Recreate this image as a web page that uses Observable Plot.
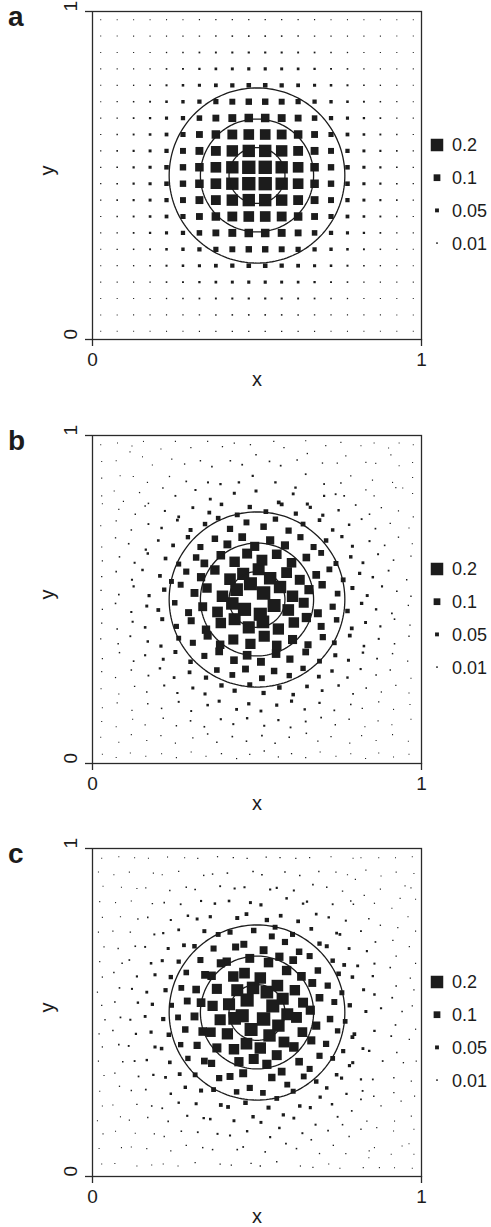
<!DOCTYPE html>
<html>
<head>
<meta charset="utf-8">
<script src="https://cdn.jsdelivr.net/npm/d3@7"></script>
<script src="https://cdn.jsdelivr.net/npm/@observablehq/plot@0.6"></script>
<style>
  body { margin: 0; background: #fff; }
  #chart { position: relative; width: 491px; height: 1227px; overflow: hidden;
           font-family: "Liberation Sans", Arial, Helvetica, sans-serif; color: #1a1a1a; }
  .panel { position: absolute; left: 0; }
</style>
</head>
<body>
<div id="chart"></div>
<script>
// ---- Panel a: regular 20 x 20 grid of sample sites ----
const gridX = [.025,.075,.125,.175,.225,.275,.325,.375,.425,.475,.525,.575,.625,.675,.725,.775,.825,.875,.925,.975];
const gridY = [.975,.925,.875,.825,.775,.725,.675,.625,.575,.525,.475,.425,.375,.325,.275,.225,.175,.125,.075,.025];
// values in thousandths, one row per gridY entry (top to bottom)
const aV = [
  [0,0,0,1,2,2,3,4,5,5,5,5,4,3,2,2,1,0,0,0],
  [0,0,1,2,3,5,7,8,10,11,11,10,8,7,5,3,2,1,0,0],
  [0,1,2,4,6,9,13,16,19,21,21,19,16,13,9,6,4,2,1,0],
  [1,2,4,7,11,16,23,29,34,37,37,34,29,23,16,11,7,4,2,1],
  [2,3,6,11,18,27,37,48,57,62,62,57,48,37,27,18,11,6,3,2],
  [2,5,9,16,27,41,57,73,86,94,94,86,73,57,41,27,16,9,5,2],
  [3,7,13,23,37,57,79,102,120,131,131,120,102,79,57,37,23,13,7,3],
  [4,8,16,29,48,73,102,131,154,168,168,154,131,102,73,48,29,16,8,4],
  [5,10,19,34,57,86,120,154,182,198,198,182,154,120,86,57,34,19,10,5],
  [5,11,21,37,62,94,131,168,198,215,215,198,168,131,94,62,37,21,11,5],
  [5,11,21,37,62,94,131,168,198,215,215,198,168,131,94,62,37,21,11,5],
  [5,10,19,34,57,86,120,154,182,198,198,182,154,120,86,57,34,19,10,5],
  [4,8,16,29,48,73,102,131,154,168,168,154,131,102,73,48,29,16,8,4],
  [3,7,13,23,37,57,79,102,120,131,131,120,102,79,57,37,23,13,7,3],
  [2,5,9,16,27,41,57,73,86,94,94,86,73,57,41,27,16,9,5,2],
  [2,3,6,11,18,27,37,48,57,62,62,57,48,37,27,18,11,6,3,2],
  [1,2,4,7,11,16,23,29,34,37,37,34,29,23,16,11,7,4,2,1],
  [0,1,2,4,6,9,13,16,19,21,21,19,16,13,9,6,4,2,1,0],
  [0,0,1,2,3,5,7,8,10,11,11,10,8,7,5,3,2,1,0,0],
  [0,0,0,1,2,2,3,4,5,5,5,5,4,3,2,2,1,0,0,0]
];

// ---- Panel b: irregular sites (x, y and value in thousandths) ----
const bX = [
  25,76,120,155,208,252,299,350,395,431,480,551,582,648,709,755,816,856,900,932,975,
  28,72,114,152,182,241,280,328,363,419,455,497,538,572,622,653,699,744,770,831,861,907,932,973,
  28,84,124,167,234,285,351,389,445,487,556,617,648,704,755,785,851,912,943,973,
  28,66,94,143,170,214,252,313,358,431,497,566,610,653,704,739,765,831,856,922,973,
  30,80,130,160,220,262,305,355,392,440,478,527,575,618,662,700,748,800,842,878,930,975,
  25,72,118,170,210,258,298,342,382,418,468,520,556,596,640,690,730,780,818,860,905,962,
  28,70,110,162,200,245,290,328,372,410,455,493,540,585,632,672,710,758,790,842,888,930,972,
  30,82,128,168,222,262,315,340,390,432,470,515,560,605,650,695,740,785,822,868,915,968,
  28,72,120,152,205,240,285,330,372,418,458,505,540,590,630,680,720,762,812,852,900,955,
  26,80,125,172,218,268,310,348,395,438,480,520,570,608,658,698,745,790,835,880,925,968,
  30,70,118,165,200,250,292,335,380,425,462,510,552,595,642,685,730,775,818,862,910,960,
  28,75,122,160,212,255,300,345,390,432,475,518,565,612,650,695,742,788,830,875,918,965,
  25,78,115,168,208,262,305,350,388,428,480,522,560,608,655,700,735,782,825,870,918,962,
  30,82,125,160,215,252,298,340,385,430,470,512,558,600,648,690,738,778,822,865,912,958,
  28,70,118,170,205,248,295,345,378,425,465,515,552,598,640,688,728,775,815,862,905,968,
  26,80,128,165,218,258,305,342,392,432,478,520,568,610,652,698,748,792,832,878,922,962,
  30,75,120,168,210,262,300,350,385,438,475,512,560,605,645,690,735,785,820,870,915,965,
  28,72,122,160,215,255,298,340,390,428,470,522,565,602,648,695,738,780,828,868,910,968,
  25,80,118,165,208,252,305,350,378,425,468,515,555,598,650,685,725,782,818,862,912,960,
  30,72,115,162,210,255,300,345,392,438,478,522,565,605,648,692,740,785,830,870,915,962
];
const bY = [
  972,977,968,982,959,982,963,982,966,977,972,982,963,984,969,979,969,977,962,977,972,
  921,923,950,935,910,928,913,923,905,923,911,941,921,908,925,945,916,916,938,918,915,941,908,918,
  870,877,875,857,875,860,857,852,857,877,857,841,882,852,855,877,864,857,840,872,
  816,831,799,826,793,840,816,834,806,824,831,796,822,791,816,821,816,834,816,841,823,
  792,775,760,785,770,752,780,765,790,758,782,768,790,762,781,757,772,788,760,780,770,752,
  725,740,712,730,718,742,712,730,748,715,735,722,745,710,730,742,712,728,745,716,732,718,
  660,688,670,652,680,665,690,660,685,668,690,662,680,665,690,660,680,692,662,678,665,690,670,
  618,630,612,640,625,608,628,610,635,615,640,620,638,612,628,642,610,630,612,638,620,632,
  570,585,560,590,572,555,585,568,590,562,578,592,565,582,560,575,592,560,580,568,588,560,
  528,515,540,512,530,545,520,535,510,530,548,520,538,510,530,545,518,535,512,540,525,510,
  470,488,462,480,468,490,460,478,462,488,470,455,482,468,490,458,478,465,488,470,458,482,
  428,410,432,415,440,418,435,408,428,440,415,432,410,430,445,418,438,412,430,418,440,422,
  380,365,388,372,358,382,368,390,362,378,365,388,360,378,362,385,368,390,358,380,365,388,
  320,338,312,330,318,340,310,328,342,315,330,310,335,318,340,312,330,315,338,320,335,312,
  280,262,285,268,290,262,278,262,285,270,288,260,282,268,290,265,282,262,288,270,285,260,
  228,212,235,218,238,215,230,212,238,222,240,215,232,210,235,222,238,212,230,218,238,215,
  170,185,162,182,168,188,160,178,190,165,182,160,178,190,165,185,162,180,168,188,165,180,
  128,112,135,118,138,115,130,112,135,120,138,115,132,110,128,140,118,135,112,130,118,135,
  80,65,88,70,85,62,78,90,65,82,68,85,62,80,92,68,82,62,85,70,88,68,
  28,18,32,22,30,18,35,22,30,15,28,38,20,30,18,35,22,30,15,32,20,28
];
const bV = [
  0,0,1,1,2,2,3,3,5,5,5,4,6,3,3,2,1,1,0,0,0,
  0,1,1,1,2,3,6,7,10,10,13,9,11,13,8,6,6,5,3,2,1,1,1,0,
  1,1,2,4,6,12,18,23,25,21,25,25,13,14,9,5,3,2,1,1,
  1,2,3,5,9,8,15,19,33,35,35,47,32,36,21,15,13,5,5,2,1,
  1,3,7,8,18,30,32,48,44,69,58,65,49,55,38,38,23,12,10,6,3,2,
  2,4,9,15,25,31,52,60,63,91,86,96,77,91,66,45,43,25,15,12,6,3,
  3,6,11,22,29,47,58,88,95,120,117,142,125,124,90,88,61,39,35,18,11,6,3,
  4,9,18,25,47,70,95,117,133,164,156,172,151,149,115,84,69,43,32,17,10,4,
  5,9,19,26,47,68,90,126,146,185,193,191,199,171,156,117,85,66,39,26,14,7,
  5,12,21,37,58,86,120,147,183,203,210,217,198,181,143,111,81,53,34,19,11,6,
  5,10,19,34,48,78,104,138,169,200,212,212,209,186,157,121,90,61,41,24,13,6,
  5,10,19,28,52,72,105,128,165,192,193,203,179,165,144,104,78,48,33,19,11,5,
  4,8,15,26,38,68,88,124,130,158,161,177,149,141,107,91,66,48,27,18,9,5,
  3,8,12,20,33,52,61,88,117,115,134,120,132,107,100,67,53,35,25,14,8,4,
  2,4,9,14,25,30,48,57,80,83,102,84,95,76,76,49,42,24,20,10,7,2,
  2,3,7,9,19,21,35,36,58,56,70,56,61,44,46,31,25,13,10,5,4,2,
  1,2,3,7,9,17,16,27,36,32,40,32,37,37,24,23,13,10,6,5,2,1,
  1,1,2,3,6,7,11,12,20,18,24,19,21,15,15,13,7,7,3,2,1,1,
  0,1,1,2,3,3,6,9,8,11,10,13,9,10,9,6,5,2,2,1,1,0,
  0,0,0,1,1,2,3,3,5,4,5,6,4,5,3,3,2,1,1,1,0,0
];

// ---- Panel c: irregular sites (x, y and value in thousandths) ----
const cX = [
  972,977,968,982,959,982,963,982,966,977,972,982,963,984,969,979,969,977,962,977,972,
  921,923,950,935,910,928,913,923,905,923,911,941,921,908,925,945,916,916,938,918,915,941,908,918,
  870,877,875,857,875,860,857,852,857,877,857,841,882,852,855,877,864,857,840,872,
  816,831,799,826,793,840,816,834,806,824,831,796,822,791,816,821,816,834,816,841,823,
  792,775,760,785,770,752,780,765,790,758,782,768,790,762,781,757,772,788,760,780,770,752,
  725,740,712,730,718,742,712,730,748,715,735,722,745,710,730,742,712,728,745,716,732,718,
  660,688,670,652,680,665,690,660,685,668,690,662,680,665,690,660,680,692,662,678,665,690,670,
  618,630,612,640,625,608,628,610,635,615,640,620,638,612,628,642,610,630,612,638,620,632,
  570,585,560,590,572,555,585,568,590,562,578,592,565,582,560,575,592,560,580,568,588,560,
  528,515,540,512,530,545,520,535,510,530,548,520,538,510,530,545,518,535,512,540,525,510,
  470,488,462,480,468,490,460,478,462,488,470,455,482,468,490,458,478,465,488,470,458,482,
  428,410,432,415,440,418,435,408,428,440,415,432,410,430,445,418,438,412,430,418,440,422,
  380,365,388,372,358,382,368,390,362,378,365,388,360,378,362,385,368,390,358,380,365,388,
  320,338,312,330,318,340,310,328,342,315,330,310,335,318,340,312,330,315,338,320,335,312,
  280,262,285,268,290,262,278,262,285,270,288,260,282,268,290,265,282,262,288,270,285,260,
  228,212,235,218,238,215,230,212,238,222,240,215,232,210,235,222,238,212,230,218,238,215,
  170,185,162,182,168,188,160,178,190,165,182,160,178,190,165,185,162,180,168,188,165,180,
  128,112,135,118,138,115,130,112,135,120,138,115,132,110,128,140,118,135,112,130,118,135,
  80,65,88,70,85,62,78,90,65,82,68,85,62,80,92,68,82,62,85,70,88,68,
  28,18,32,22,30,18,35,22,30,15,28,38,20,30,18,35,22,30,15,32,20,28
];
const cY = [
  975,924,880,845,792,748,701,650,605,569,520,449,418,352,291,245,184,144,100,68,25,
  972,928,886,848,818,759,720,672,637,581,545,503,462,428,378,347,301,256,230,169,139,93,68,27,
  972,916,876,833,766,715,649,611,555,513,444,383,352,296,245,215,149,88,57,27,
  972,934,906,857,830,786,748,687,642,569,503,434,390,347,296,261,235,169,144,78,27,
  970,920,870,840,780,738,695,645,608,560,522,473,425,382,338,300,252,200,158,122,70,25,
  975,928,882,830,790,742,702,658,618,582,532,480,444,404,360,310,270,220,182,140,95,38,
  972,930,890,838,800,755,710,672,628,590,545,507,460,415,368,328,290,242,210,158,112,70,28,
  970,918,872,832,778,738,685,660,610,568,530,485,440,395,350,305,260,215,178,132,85,32,
  972,928,880,848,795,760,715,670,628,582,542,495,460,410,370,320,280,238,188,148,100,45,
  974,920,875,828,782,732,690,652,605,562,520,480,430,392,342,302,255,210,165,120,75,32,
  970,930,882,835,800,750,708,665,620,575,538,490,448,405,358,315,270,225,182,138,90,40,
  972,925,878,840,788,745,700,655,610,568,525,482,435,388,350,305,258,212,170,125,82,35,
  975,922,885,832,792,738,695,650,612,572,520,478,440,392,345,300,265,218,175,130,82,38,
  970,918,875,840,785,748,702,660,615,570,530,488,442,400,352,310,262,222,178,135,88,42,
  972,930,882,830,795,752,705,655,622,575,535,485,448,402,360,312,272,225,185,138,95,32,
  974,920,872,835,782,742,695,658,608,568,522,480,432,390,348,302,252,208,168,122,78,38,
  970,925,880,832,790,738,700,650,615,562,525,488,440,395,355,310,265,215,180,130,85,35,
  972,928,878,840,785,745,702,660,610,572,530,478,435,398,352,305,262,220,172,132,90,32,
  975,920,882,835,792,748,695,650,622,575,532,485,445,402,350,315,275,218,182,138,88,40,
  970,928,885,838,790,745,700,655,608,562,522,478,435,395,352,308,260,215,170,130,85,38
];
const cV = [
  0,0,1,1,2,2,3,3,5,5,5,4,6,3,3,2,1,1,0,0,0,
  0,1,1,1,2,3,6,7,10,10,13,9,11,13,8,6,6,5,3,2,1,1,1,0,
  1,1,2,4,6,12,18,23,25,21,25,25,13,14,9,5,3,2,1,1,
  1,2,3,5,9,8,15,19,33,35,35,47,32,36,21,15,13,5,5,2,1,
  1,3,7,8,18,30,32,48,44,69,58,65,49,55,38,38,23,12,10,6,3,2,
  2,4,9,15,25,31,52,60,63,91,86,96,77,91,66,45,43,25,15,12,6,3,
  3,6,11,22,29,47,58,88,95,120,117,142,125,124,90,88,61,39,35,18,11,6,3,
  4,9,18,25,47,70,95,117,133,164,156,172,151,149,115,84,69,43,32,17,10,4,
  5,9,19,26,47,68,90,126,146,185,193,191,199,171,156,117,85,66,39,26,14,7,
  5,12,21,37,58,86,120,147,183,203,210,217,198,181,143,111,81,53,34,19,11,6,
  5,10,19,34,48,78,104,138,169,200,212,212,209,186,157,121,90,61,41,24,13,6,
  5,10,19,28,52,72,105,128,165,192,193,203,179,165,144,104,78,48,33,19,11,5,
  4,8,15,26,38,68,88,124,130,158,161,177,149,141,107,91,66,48,27,18,9,5,
  3,8,12,20,33,52,61,88,117,115,134,120,132,107,100,67,53,35,25,14,8,4,
  2,4,9,14,25,30,48,57,80,83,102,84,95,76,76,49,42,24,20,10,7,2,
  2,3,7,9,19,21,35,36,58,56,70,56,61,44,46,31,25,13,10,5,4,2,
  1,2,3,7,9,17,16,27,36,32,40,32,37,37,24,23,13,10,6,5,2,1,
  1,1,2,3,6,7,11,12,20,18,24,19,21,15,15,13,7,7,3,2,1,1,
  0,1,1,2,3,3,6,9,8,11,10,13,9,10,9,6,5,2,2,1,1,0,
  0,0,0,1,1,2,3,3,5,4,5,6,4,5,3,3,2,1,1,1,0,0
];

// contour circles around the centre of the square
const contourCentre = [0.5, 0.5];
const contourRadii = [0.085, 0.172, 0.267];
// legend entries
const legendValues = [0.2, 0.1, 0.05, 0.01];
const axisTicks = [0, 1];

// ---- assemble ----
const pointsA = aV.flatMap((row, r) => row.map((v, c) => ({x: gridX[c], y: gridY[r], v: v / 1000})));
const toPoints = (X, Y, V) => X.map((x, i) => ({x: x / 1000, y: Y[i] / 1000, v: V[i] / 1000}));
const pointsB = toPoints(bX, bY, bV);
const pointsC = toPoints(cX, cY, cV);

const ring = contourRadii.flatMap((rad, k) =>
  d3.range(0, 361, 2).map(a => ({
    k,
    x: contourCentre[0] + rad * Math.cos(a * Math.PI / 180),
    y: contourCentre[1] + rad * Math.sin(a * Math.PI / 180)
  })));

const FONT = '"Liberation Sans", Arial, Helvetica, sans-serif';
const INK = "#1c1c1c";
const SQ = Math.sqrt(Math.PI); // side of a square symbol per unit radius

function panel(points, letter, top) {
  const plot = Plot.plot({
    width: 491, height: 400,
    marginLeft: 92, marginRight: 70, marginTop: 11, marginBottom: 61,
    x: {domain: [0, 1]},
    y: {domain: [0, 1]},
    r: {type: "linear", domain: [0, 0.2], range: [1 / SQ, 12.5 / SQ]},
    style: {fontFamily: FONT, color: INK, background: "white", overflow: "visible"},
    marks: [
      Plot.dot(points, {x: "x", y: "y", r: "v", symbol: "square", fill: INK, stroke: "none"}),
      Plot.line(ring, {x: "x", y: "y", z: "k", stroke: INK, strokeWidth: 1.3}),
      Plot.frame({stroke: "#2a2a2a", strokeWidth: 1.3}),
      Plot.axisX({ticks: axisTicks, tickFormat: d => String(d), tickSize: 7, tickPadding: 6, fontSize: 19, label: null, stroke: "#2a2a2a", strokeWidth: 1.3}),
      Plot.axisY({ticks: axisTicks, tickSize: 7, tickFormat: () => "", label: null, stroke: "#2a2a2a", strokeWidth: 1.3}),
      Plot.text(axisTicks, {y: d => d, text: d => String(d), frameAnchor: "left", dx: -22, rotate: -90, fontSize: 19}),
      Plot.text(["x"], {frameAnchor: "bottom", dy: 46, fontSize: 20}),
      Plot.text(["y"], {frameAnchor: "left", dx: -45, rotate: -90, fontSize: 20})
    ]
  });
  const r = plot.scale("r");
  const svg = d3.select(plot);
  // panel letter
  svg.append("text").attr("x", 8).attr("y", 26).attr("font-size", 28).attr("text-anchor", "start")
    .attr("font-weight", "bold").attr("font-family", FONT).attr("fill", INK).text(letter);
  // size legend
  const lg = svg.append("g").attr("font-family", FONT).attr("font-size", 18)
    .attr("text-anchor", "start").attr("fill", INK);
  legendValues.forEach((v, i) => {
    const cy = 145 + i * 32.7;
    const s = r.apply(v) * SQ;
    lg.append("rect").attr("x", 437 - s / 2).attr("y", cy - s / 2).attr("width", s).attr("height", s);
    lg.append("text").attr("x", 452).attr("y", cy).attr("dy", "0.36em").text(String(v));
  });
  const holder = document.createElement("div");
  holder.className = "panel";
  holder.style.top = top + "px";
  holder.appendChild(plot);
  document.getElementById("chart").appendChild(holder);
}

panel(pointsA, "a", 0);
panel(pointsB, "b", 424);
panel(pointsC, "c", 837);
</script>
</body>
</html>
